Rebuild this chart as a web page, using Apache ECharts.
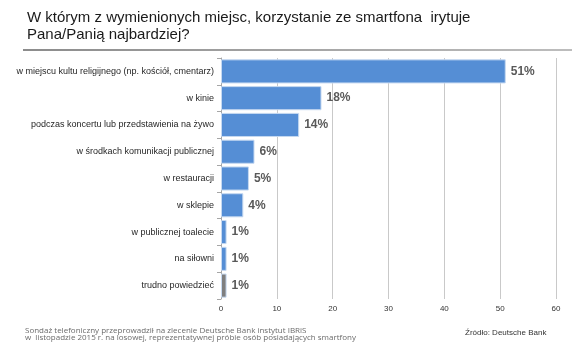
<!DOCTYPE html>
<html>
<head>
    <meta charset="utf-8" />
    <title>Smartfon - gdzie irytuje najbardziej</title>
    <script src="https://cdn.jsdelivr.net/npm/echarts@6/dist/echarts.min.js"></script>
    <style>
        html, body { margin: 0; padding: 0; background: #fff; }
    </style>
</head>
<body>
<div id="main" style="width: 585px;height:354px;"></div>
<script type="text/javascript">
    // kategorie i wartości (%)
    var categories = [
        'w miejscu kultu religijnego (np. kościół, cmentarz)',
        'w kinie',
        'podczas koncertu lub przedstawienia na żywo',
        'w środkach komunikacji publicznej',
        'w restauracji',
        'w sklepie',
        'w publicznej toalecie',
        'na siłowni',
        'trudno powiedzieć'
    ];
    var values = [51, 18, 14, 6, 5, 4, 1, 1, 1];
    var xTicks = [0, 10, 20, 30, 40, 50, 60];

    var blue = '#558ed5';
    var gray = '#7f7f7f';

    var barData = [];
    for (var i = 0; i < values.length; i++) {
        barData.push({
            value: values[i],
            itemStyle: { color: i === values.length - 1 ? gray : blue }
        });
    }

    var myChart = echarts.init(document.getElementById('main'));
    var option = {
        animation: false,
        title: {
            text: 'W którym z wymienionych miejsc, korzystanie ze smartfona  irytuje\nPana/Panią najbardziej?',
            left: 27,
            top: 10,
            padding: 0,
            textStyle: {
                fontFamily: 'Liberation Sans, Arial, sans-serif',
                fontSize: 15,
                fontWeight: 'normal',
                color: '#1a1a1a',
                lineHeight: 16.5
            }
        },
        graphic: [
            {
                // linia pod tytułem
                type: 'rect',
                shape: { x: 23, y: 49, width: 549, height: 2 },
                style: {
                    fill: new echarts.graphic.LinearGradient(0, 0, 1, 0, [
                        { offset: 0, color: '#8c8c8c' },
                        { offset: 1, color: '#bdbdbd' }
                    ])
                }
            },
            {
                type: 'text',
                left: 25,
                top: 327,
                style: {
                    text: 'Sondaż telefoniczny przeprowadził na zlecenie Deutsche Bank instytut IBRiS\nw  listopadzie 2015 r. na losowej, reprezentatywnej próbie osób posiadających smartfony',
                    font: '8px "Open Sans", sans-serif',
                    fill: '#6b6b6b',
                    lineHeight: 6.5
                }
            },
            {
                type: 'text',
                left: 465,
                top: 329,
                style: {
                    text: 'Źródło: Deutsche Bank',
                    font: '8px "Liberation Sans", Arial, sans-serif',
                    fill: '#333'
                }
            }
        ],
        grid: {
            left: 221,
            right: 29,
            top: 58,
            bottom: 55,
            containLabel: false,
            outerBoundsMode: 'none'
        },
        xAxis: {
            type: 'value',
            min: 0,
            max: 60,
            interval: 10,
            axisLine: { show: false },
            axisTick: { show: false },
            axisLabel: {
                fontFamily: 'Liberation Sans, Arial, sans-serif',
                fontSize: 8,
                color: '#333',
                margin: 6,
                formatter: function (v) { return xTicks.indexOf(v) >= 0 ? String(v) : ''; }
            },
            splitLine: { lineStyle: { color: '#c9c9c9', width: 1 } }
        },
        yAxis: {
            type: 'category',
            inverse: true,
            data: categories,
            axisLine: { lineStyle: { color: '#a6a6a6' } },
            axisTick: { show: true, length: 4, lineStyle: { color: '#a6a6a6' } },
            axisLabel: {
                fontFamily: 'Liberation Sans, Arial, sans-serif',
                fontSize: 9,
                color: '#262626',
                margin: 7
            }
        },
        series: [
            {
                type: 'bar',
                data: barData,
                barCategoryGap: '10%',
                itemStyle: {
                    borderColor: '#c6d9f1',
                    borderWidth: 1
                },
                label: {
                    show: true,
                    position: 'right',
                    distance: 5,
                    formatter: '{c}%',
                    fontFamily: 'Liberation Sans, Arial, sans-serif',
                    fontSize: 12,
                    fontWeight: 'bold',
                    color: '#595959'
                }
            }
        ]
    };
    myChart.setOption(option);
</script>
</body>
</html>
